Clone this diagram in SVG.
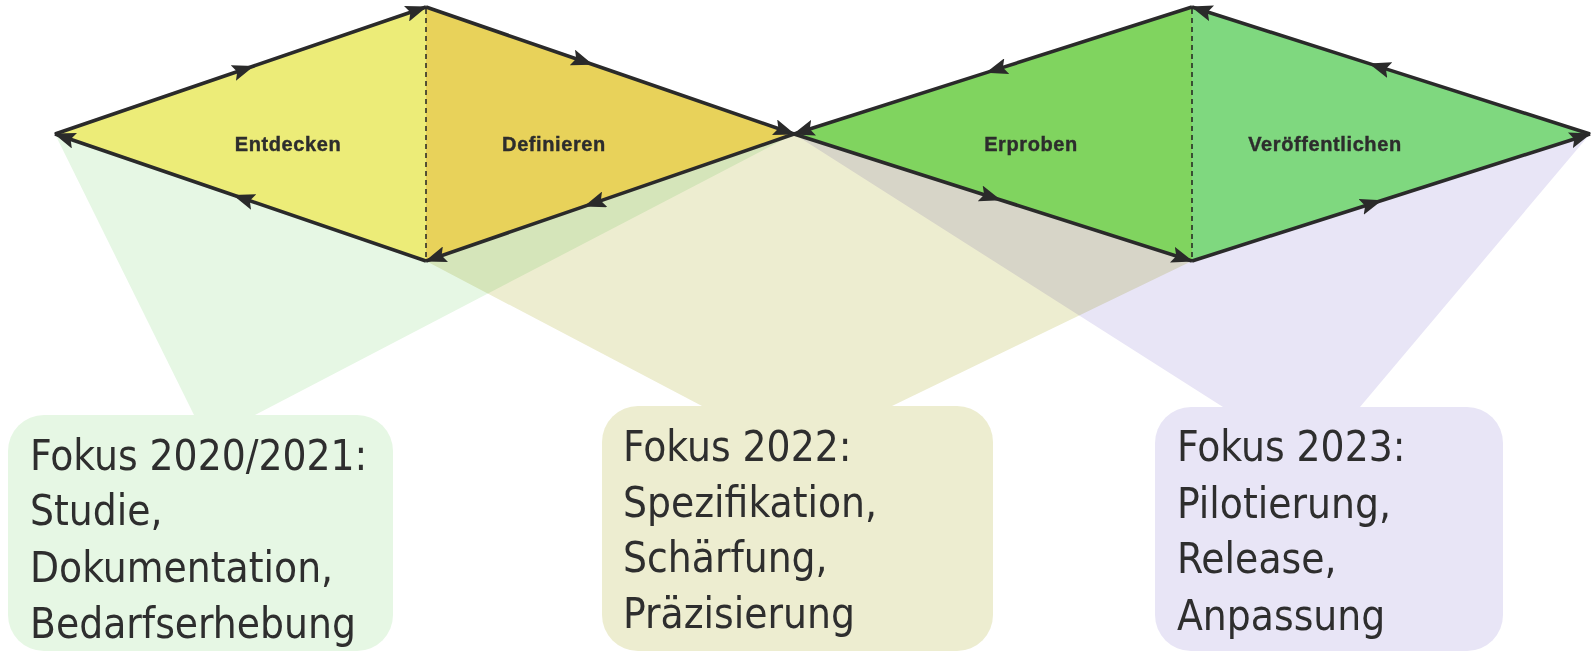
<svg xmlns="http://www.w3.org/2000/svg" width="1592" height="653" viewBox="0 0 1592 653">
<defs>
<marker id="arr" viewBox="0 0 16 12" markerWidth="22" markerHeight="16.5" refX="15" refY="6" orient="auto" markerUnits="userSpaceOnUse">
<path d="M0,0 L16,6 L0,12 L3,6 z" fill="#2a2a2a"/>
</marker>
<marker id="arrm" viewBox="0 0 16 12" markerWidth="22" markerHeight="16.5" refX="9" refY="6" orient="auto" markerUnits="userSpaceOnUse">
<path d="M0,0 L16,6 L0,12 L3,6 z" fill="#2a2a2a"/>
</marker>
</defs>
<style>
.funnel{mix-blend-mode:multiply}
.edge{fill:none;stroke:#2a2a2a;stroke-width:3.6;marker-mid:url(#arrm);marker-end:url(#arr)}
.dash{stroke:#222;stroke-width:1.5;stroke-dasharray:5 4}
.lbl{font-family:"Liberation Sans",Arial,sans-serif;font-weight:bold;font-size:20px;letter-spacing:0.6px;fill:#2d2d2d;text-anchor:middle;stroke:#2d2d2d;stroke-width:0.4}
.box{font-family:"DejaVu Sans Condensed","DejaVu Sans",sans-serif;font-stretch:condensed;font-size:42px;fill:#2e2e2e}
</style>
<rect width="1592" height="653" fill="#ffffff"/>
<g id="funnels">
<polygon class="funnel" points="55,134 794,134 255,415 194,415" fill="#E6F7E4"/>
<polygon class="funnel" points="426,261 794,134 1192,261 892,406 702,406" fill="#EDEDD0"/>
<polygon class="funnel" points="794,134 1590,134 1360,407 1223,407" fill="#E8E5F6"/>
</g>
<g id="box1">
<rect x="8" y="415" width="385" height="236" rx="36" fill="#E6F7E4"/>
<text class="box" x="30" y="470">Fokus 2020/2021:</text>
<text class="box" x="30" y="525">Studie,</text>
<text class="box" x="30" y="582">Dokumentation,</text>
<text class="box" x="30" y="638">Bedarfserhebung</text>
</g>
<g id="box2">
<rect x="602" y="406" width="391" height="245" rx="36" fill="#EDEDD0"/>
<text class="box" x="623" y="461">Fokus 2022:</text>
<text class="box" x="623" y="517">Spezifikation,</text>
<text class="box" x="623" y="572">Schärfung,</text>
<text class="box" x="623" y="628">Präzisierung</text>
</g>
<g id="box3">
<rect x="1155" y="407" width="348" height="244" rx="36" fill="#E8E5F6"/>
<text class="box" x="1177" y="461">Fokus 2023:</text>
<text class="box" x="1177" y="518">Pilotierung,</text>
<text class="box" x="1177" y="573">Release,</text>
<text class="box" x="1177" y="630">Anpassung</text>
</g>
<g id="entdecken">
<polygon points="55,134 426,7 426,261" fill="#ECEC78"/>
<text class="lbl" x="288" y="151">Entdecken</text>
</g>
<g id="definieren">
<polygon points="426,7 794,134 426,261" fill="#E8D25A"/>
<text class="lbl" x="554" y="151">Definieren</text>
</g>
<g id="erproben">
<polygon points="794,134 1192,7 1192,261" fill="#80D45F"/>
<text class="lbl" x="1031" y="151">Erproben</text>
</g>
<g id="veroeffentlichen">
<polygon points="1192,7 1590,134 1192,261" fill="#7FD87F"/>
<text class="lbl" x="1325" y="151">Veröffentlichen</text>
</g>
<g id="connectors">
<line class="dash" x1="426" y1="9" x2="426" y2="259"/>
<line class="dash" x1="1192" y1="9" x2="1192" y2="259"/>
<path class="edge" d="M55,134 L245,69 L426,7"/>
<path class="edge" d="M426,7 L584,61.5 L794,134"/>
<path class="edge" d="M794,134 L593,203.4 L426,261"/>
<path class="edge" d="M426,261 L242,198 L55,134"/>
<path class="edge" d="M1192,7 L995,69.9 L794,134"/>
<path class="edge" d="M794,134 L992,197.2 L1192,261"/>
<path class="edge" d="M1192,261 L1373,203.2 L1590,134"/>
<path class="edge" d="M1590,134 L1378,66.4 L1192,7"/>
</g>
</svg>
